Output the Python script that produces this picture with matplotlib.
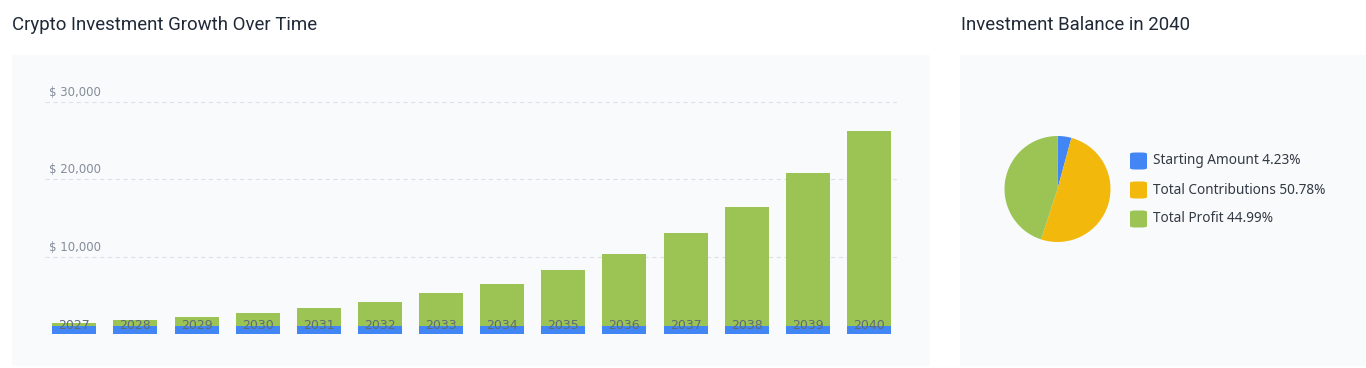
import matplotlib.pyplot as plt
from matplotlib.patches import Rectangle, FancyBboxPatch

# Data
years = ["2027", "2028", "2029", "2030", "2031", "2032", "2033",
         "2034", "2035", "2036", "2037", "2038", "2039", "2040"]
balance = [1410, 1800, 2180, 2690, 3330, 4190, 5260,
           6540, 8330, 10380, 13080, 16450, 20770, 26190]
starting_amount = 1100
y_ticks = [10000, 20000, 30000]
y_tick_labels = ["$ 10,000", "$ 20,000", "$ 30,000"]

pie_labels = ["Starting Amount", "Total Contributions", "Total Profit"]
pie_shares = [4.23, 50.78, 44.99]

BLUE = "#4285f4"
YELLOW = "#f2b90c"
GREEN = "#9bc455"
PANEL = "#f8fafc"
TITLE = "#1f2937"

W, H = 1366, 368
fig = plt.figure(figsize=(W / 100, H / 100), dpi=100)
fig.patch.set_facecolor("white")


def box(x0, y0, x1, y1):
    # pixel coords (top-left origin) -> figure fraction rect
    return [x0 / W, 1 - y1 / H, (x1 - x0) / W, (y1 - y0) / H]


# Panel backgrounds
for x0, x1 in [(12, 930), (960, 1366)]:
    fig.patches.append(Rectangle((x0 / W, 1 - 366 / H), (x1 - x0) / W, (366 - 55) / H,
                                 transform=fig.transFigure, facecolor=PANEL,
                                 edgecolor="none", zorder=-5))

fig.text(12 / W, 1 - 25 / H, "Crypto Investment Growth Over Time", fontsize=13.4,
         color=TITLE, va="center", ha="left", family="Roboto")
fig.text(961 / W, 1 - 25 / H, "Investment Balance in 2040", fontsize=13.4,
         color=TITLE, va="center", ha="left", family="Roboto")

# Bar chart
ax = fig.add_axes(box(45, 101.7, 897, 334.2))
ax.set_facecolor("none")
x = list(range(len(years)))
profit_part = [b - starting_amount for b in balance]
ax.bar(x, [starting_amount] * len(x), width=0.72, color=BLUE, zorder=1)
ax.bar(x, profit_part, bottom=starting_amount, width=0.72, color=GREEN, zorder=1)
ax.set_xlim(-0.48, 13.46)
ax.set_ylim(0, 30000)
for s in ax.spines.values():
    s.set_visible(False)
ax.set_yticks(y_ticks)
ax.set_yticklabels([])
ax.tick_params(axis="y", length=0)
ax.grid(axis="y", color="#dde1e6", linestyle=(0, (4, 3)), linewidth=0.8)
ax.set_axisbelow(True)
ax.set_xticks([])

# year labels sit over the bottom of the bars
for i, yr in zip(x, years):
    ax.text(i, 0.038, yr, transform=ax.get_xaxis_transform(), fontsize=9,
            color="#5f6b78", ha="center", va="center", zorder=5)
for v, t in zip(y_ticks, y_tick_labels):
    ax.text(0.005, v + 350, t, transform=ax.get_yaxis_transform(), fontsize=8.5,
            color="#848d99", va="bottom", ha="left")

# Pie chart
cx, cy, r = 1057.5, 189, 53
pax = fig.add_axes(box(cx - r, cy - r, cx + r, cy + r))
pax.pie(pie_shares, colors=[BLUE, YELLOW, GREEN], startangle=90, counterclock=False,
        wedgeprops=dict(linewidth=0))
pax.set_xlim(-1, 1)
pax.set_ylim(-1, 1)
pax.set_aspect("equal")

# Legend
for i, (lab, val, col) in enumerate(zip(pie_labels, pie_shares, [BLUE, YELLOW, GREEN])):
    yc = 161 + i * 29
    fig.patches.append(FancyBboxPatch((1130 / W, 1 - (yc + 8.5) / H), 17 / W, 17 / H,
                                      boxstyle="round,pad=0,rounding_size=0.004",
                                      transform=fig.transFigure, facecolor=col,
                                      edgecolor="none", zorder=2))
    fig.text(1153 / W, 1 - yc / H, f"{lab} {val:.2f}%", fontsize=9.8, color="#333a44",
             va="center", ha="left", family="Noto Sans")

fig.savefig("out.png", dpi=100, facecolor=fig.get_facecolor())
